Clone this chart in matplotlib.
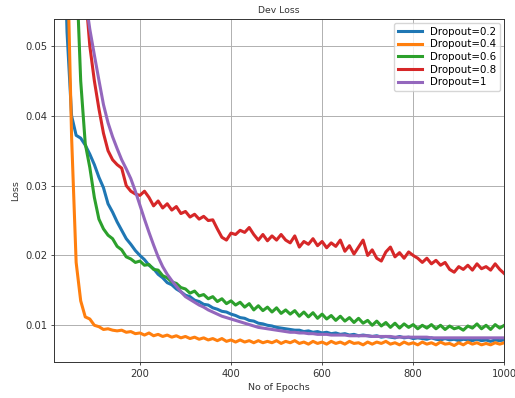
import numpy as np
import matplotlib
matplotlib.use("Agg")
from matplotlib import pyplot as plt

# epochs sampled every 10
epochs = np.arange(10, 1001, 10)

loss_02 = [0.160, 0.110, 0.075, 0.052, 0.0400, 0.0372, 0.0368, 0.0358, 0.0345, 0.0330,
           0.0312, 0.0297, 0.0274, 0.0262, 0.0248, 0.0236, 0.0224, 0.0216, 0.0207, 0.0200,
           0.0194, 0.0186, 0.0181, 0.0173, 0.0168, 0.0161, 0.0158, 0.0152, 0.0148, 0.0143,
           0.0141, 0.0136, 0.0134, 0.0130, 0.0129, 0.0125, 0.0123, 0.0120, 0.0119, 0.0116,
           0.0114, 0.0111, 0.0110, 0.0107, 0.0106, 0.0103, 0.0102, 0.0100, 0.0099, 0.0097,
           0.0096, 0.0095, 0.0094, 0.0093, 0.0093, 0.0091, 0.0092, 0.0090, 0.0091, 0.0089,
           0.0090, 0.0088, 0.0089, 0.0087, 0.0088, 0.0086, 0.0087, 0.0085, 0.0086, 0.0085,
           0.0084, 0.0085, 0.0083, 0.0084, 0.0083, 0.0082, 0.0084, 0.0082, 0.0083, 0.0081,
           0.0082, 0.0081, 0.0080, 0.0082, 0.0080, 0.0079, 0.0081, 0.0079, 0.0080, 0.0078,
           0.0080, 0.0079, 0.0078, 0.0080, 0.0078, 0.0079, 0.0077, 0.0079, 0.0078, 0.0079]

loss_04 = [0.200, 0.150, 0.100, 0.065, 0.037, 0.0190, 0.0135, 0.0112, 0.0109, 0.0100,
           0.0098, 0.0094, 0.0095, 0.0093, 0.0092, 0.0093, 0.0090, 0.0091, 0.0088, 0.0089,
           0.0086, 0.0089, 0.0085, 0.0087, 0.0084, 0.0086, 0.0083, 0.0085, 0.0082, 0.0084,
           0.0081, 0.0083, 0.0080, 0.0082, 0.0079, 0.0081, 0.0078, 0.0081, 0.0077, 0.0079,
           0.0076, 0.0079, 0.0076, 0.0078, 0.0075, 0.0078, 0.0075, 0.0077, 0.0075, 0.0078,
           0.0074, 0.0077, 0.0075, 0.0078, 0.0074, 0.0076, 0.0073, 0.0077, 0.0074, 0.0076,
           0.0073, 0.0077, 0.0074, 0.0076, 0.0073, 0.0077, 0.0074, 0.0075, 0.0072, 0.0076,
           0.0073, 0.0076, 0.0074, 0.0077, 0.0073, 0.0075, 0.0072, 0.0076, 0.0073, 0.0075,
           0.0072, 0.0076, 0.0073, 0.0075, 0.0072, 0.0076, 0.0073, 0.0074, 0.0071, 0.0075,
           0.0072, 0.0076, 0.0073, 0.0075, 0.0072, 0.0074, 0.0072, 0.0075, 0.0073, 0.0075]

loss_06 = [0.250, 0.200, 0.150, 0.110, 0.085, 0.062, 0.045, 0.0360, 0.0326, 0.0283,
           0.0252, 0.0238, 0.0229, 0.0224, 0.0213, 0.0208, 0.0198, 0.0195, 0.0190, 0.0192,
           0.0186, 0.0187, 0.0180, 0.0179, 0.0171, 0.0168, 0.0162, 0.0160, 0.0154, 0.0152,
           0.0146, 0.0149, 0.0142, 0.0144, 0.0138, 0.0141, 0.0134, 0.0138, 0.0131, 0.0135,
           0.0129, 0.0133, 0.0126, 0.0131, 0.0122, 0.0128, 0.0121, 0.0126, 0.0119, 0.0125,
           0.0117, 0.0122, 0.0116, 0.0121, 0.0113, 0.0119, 0.0112, 0.0118, 0.0110, 0.0116,
           0.0109, 0.0114, 0.0107, 0.0113, 0.0106, 0.0111, 0.0104, 0.0110, 0.0103, 0.0107,
           0.0100, 0.0106, 0.0099, 0.0104, 0.0097, 0.0103, 0.0096, 0.0102, 0.0097, 0.0101,
           0.0095, 0.0100, 0.0096, 0.0101, 0.0095, 0.0100, 0.0094, 0.0099, 0.0095, 0.0097,
           0.0093, 0.0099, 0.0096, 0.0102, 0.0095, 0.0100, 0.0094, 0.0101, 0.0096, 0.0100]

loss_08 = [0.300, 0.250, 0.200, 0.150, 0.110, 0.090, 0.072, 0.058, 0.050, 0.0450,
           0.0410, 0.0375, 0.0350, 0.0337, 0.0330, 0.0325, 0.0300, 0.0292, 0.0288, 0.0286,
           0.0292, 0.0283, 0.0271, 0.0278, 0.0268, 0.0274, 0.0265, 0.0270, 0.0260, 0.0263,
           0.0255, 0.0259, 0.0252, 0.0256, 0.0250, 0.0251, 0.0238, 0.0226, 0.0222, 0.0232,
           0.0230, 0.0236, 0.0233, 0.0240, 0.0230, 0.0222, 0.0230, 0.0221, 0.0228, 0.0222,
           0.0230, 0.0222, 0.0218, 0.0228, 0.0212, 0.0220, 0.0216, 0.0224, 0.0214, 0.0220,
           0.0211, 0.0218, 0.0213, 0.0222, 0.0206, 0.0214, 0.0202, 0.0212, 0.0222, 0.0200,
           0.0208, 0.0196, 0.0192, 0.0205, 0.0212, 0.0198, 0.0204, 0.0196, 0.0205, 0.0200,
           0.0196, 0.0190, 0.0196, 0.0188, 0.0193, 0.0186, 0.0190, 0.0180, 0.0176, 0.0184,
           0.0180, 0.0186, 0.0179, 0.0188, 0.0181, 0.0184, 0.0179, 0.0188, 0.0180, 0.0174]

loss_1 = [0.150, 0.130, 0.110, 0.095, 0.082, 0.072, 0.064, 0.057, 0.0524, 0.0487,
          0.0451, 0.0416, 0.0390, 0.0370, 0.0353, 0.0337, 0.0324, 0.0310, 0.0292, 0.0272,
          0.0252, 0.0233, 0.0215, 0.0198, 0.0184, 0.0173, 0.0164, 0.0156, 0.0148, 0.0141,
          0.0137, 0.0133, 0.0129, 0.0126, 0.0122, 0.0119, 0.0116, 0.0113, 0.0111, 0.0109,
          0.0107, 0.0105, 0.0103, 0.0101, 0.0099, 0.0097, 0.0096, 0.0095, 0.0094, 0.0093,
          0.0092, 0.0091, 0.0090, 0.0090, 0.0089, 0.0089, 0.0088, 0.0088, 0.0087, 0.0087,
          0.0087, 0.0086, 0.0086, 0.0086, 0.0086, 0.0085, 0.0085, 0.0085, 0.0085, 0.0085,
          0.0084, 0.0084, 0.0084, 0.0084, 0.0084, 0.0083, 0.0083, 0.0083, 0.0083, 0.0083,
          0.0083, 0.0083, 0.0083, 0.0082, 0.0082, 0.0082, 0.0082, 0.0082, 0.0082, 0.0082,
          0.0082, 0.0082, 0.0082, 0.0082, 0.0082, 0.0082, 0.0082, 0.0082, 0.0082, 0.0082]

series = [loss_02, loss_04, loss_06, loss_08, loss_1]
labels = ["Dropout=0.2", "Dropout=0.4", "Dropout=0.6", "Dropout=0.8", "Dropout=1"]

plt.rcParams['font.family'] = 'DejaVu Sans'
fig = plt.figure(figsize = (5.15, 3.98), dpi = 100)
ax = fig.add_axes([0.1054, 0.0897, 0.8738, 0.8633])

for vals, lab in zip(series, labels):
    ax.plot(epochs, vals, '-', linewidth = 2.2, label = lab)

ax.set_xlim(12, 1000)
ax.set_ylim(0.0047, 0.0539)
ax.set_xticks([200, 400, 600, 800, 1000])
ax.set_yticks([0.01, 0.02, 0.03, 0.04, 0.05])
ax.grid(True, color = "#b0b0b0", linewidth = 0.7)
ax.tick_params(labelsize = 7.2, length = 2.5, width = 0.6, pad = 2.5, colors = "#333333")
for s in ax.spines.values():
    s.set_linewidth(0.7)
    s.set_color("#333333")

ax.set_title("Dev Loss", fontsize = 6.7, pad = 4, color = "#333333")
ax.set_xlabel("No of Epochs", fontsize = 6.8, labelpad = 3, color = "#333333")
ax.set_ylabel("Loss", fontsize = 6.8, labelpad = 4, color = "#333333")
ax.legend(loc = "upper right", fontsize = 7.4, handlelength = 2.3, borderaxespad = 0.4,
          labelspacing = 0.25, framealpha = 0.8)

fig.savefig("out.png", dpi = 100)
